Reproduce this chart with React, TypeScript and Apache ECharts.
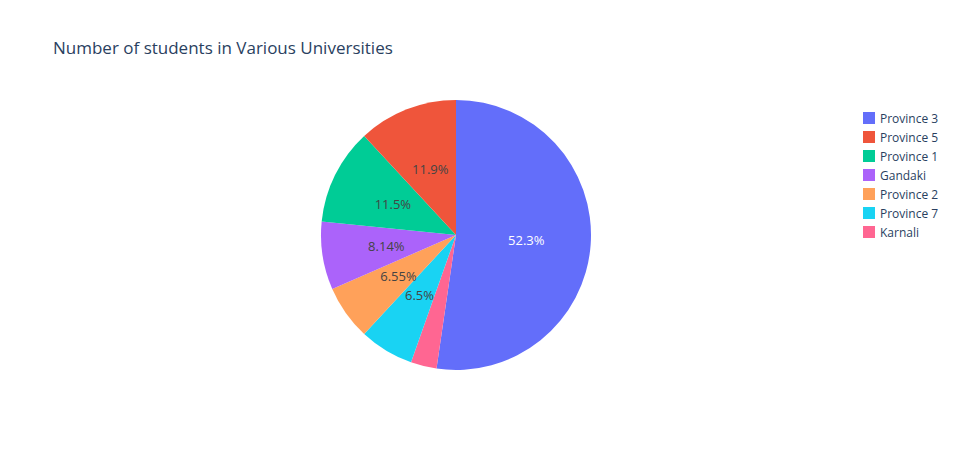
import { useEffect, useRef } from 'react';
import * as echarts from 'echarts';

// slice order clockwise from 12 o'clock
const provinces = ['Province 3', 'Karnali', 'Province 7', 'Province 2', 'Gandaki', 'Province 1', 'Province 5'];
const shares = [52.3, 3.1, 6.5, 6.55, 8.14, 11.5, 11.9];
const colors = ['#636efa', '#ff6692', '#19d3f3', '#ffa15a', '#ab63fa', '#00cc96', '#ef553b'];
const legendOrder = ['Province 3', 'Province 5', 'Province 1', 'Gandaki', 'Province 2', 'Province 7', 'Karnali'];

export default function App() {
  const chartRef = useRef<HTMLDivElement>(null);

  useEffect(() => {
    document.body.style.margin = '0';
    if (!chartRef.current) return;
    const chart = echarts.init(chartRef.current, undefined, { renderer: 'svg' });

    chart.setOption({
      animation: false,
      title: {
        text: 'Number of students in Various Universities',
        left: 48,
        top: 34,
        textStyle: { fontFamily: 'Open Sans', fontSize: 17, fontWeight: 'normal', color: '#2a3f5f' },
      },
      legend: {
        data: legendOrder,
        orient: 'vertical',
        left: 858,
        top: 107,
        itemWidth: 12,
        itemHeight: 12,
        itemGap: 7,
        icon: 'rect',
        textStyle: { fontFamily: 'Open Sans', fontSize: 12, color: '#2a3f5f' },
      },
      series: [
        {
          type: 'pie',
          center: [456, 235],
          radius: 135,
          startAngle: 90,
          clockwise: true,
          data: provinces.map((name, i) => ({
            name,
            value: shares[i],
            itemStyle: { color: colors[i] },
            label: {
              color: i === 0 ? '#ffffff' : '#444444',
              rotate: name === 'Karnali' ? 78 : 0,
            },
          })),
          label: {
            position: 'inside',
            fontFamily: 'Open Sans',
            fontSize: 13,
            formatter: (p: any) => `${Number(p.percent.toPrecision(3))}%`,
          },
          labelLine: { show: false },
          emphasis: { scale: false },
        },
      ],
    });

    return () => chart.dispose();
  }, []);

  return <div ref={chartRef} style={{ width: 968, height: 450 }} />;
}
